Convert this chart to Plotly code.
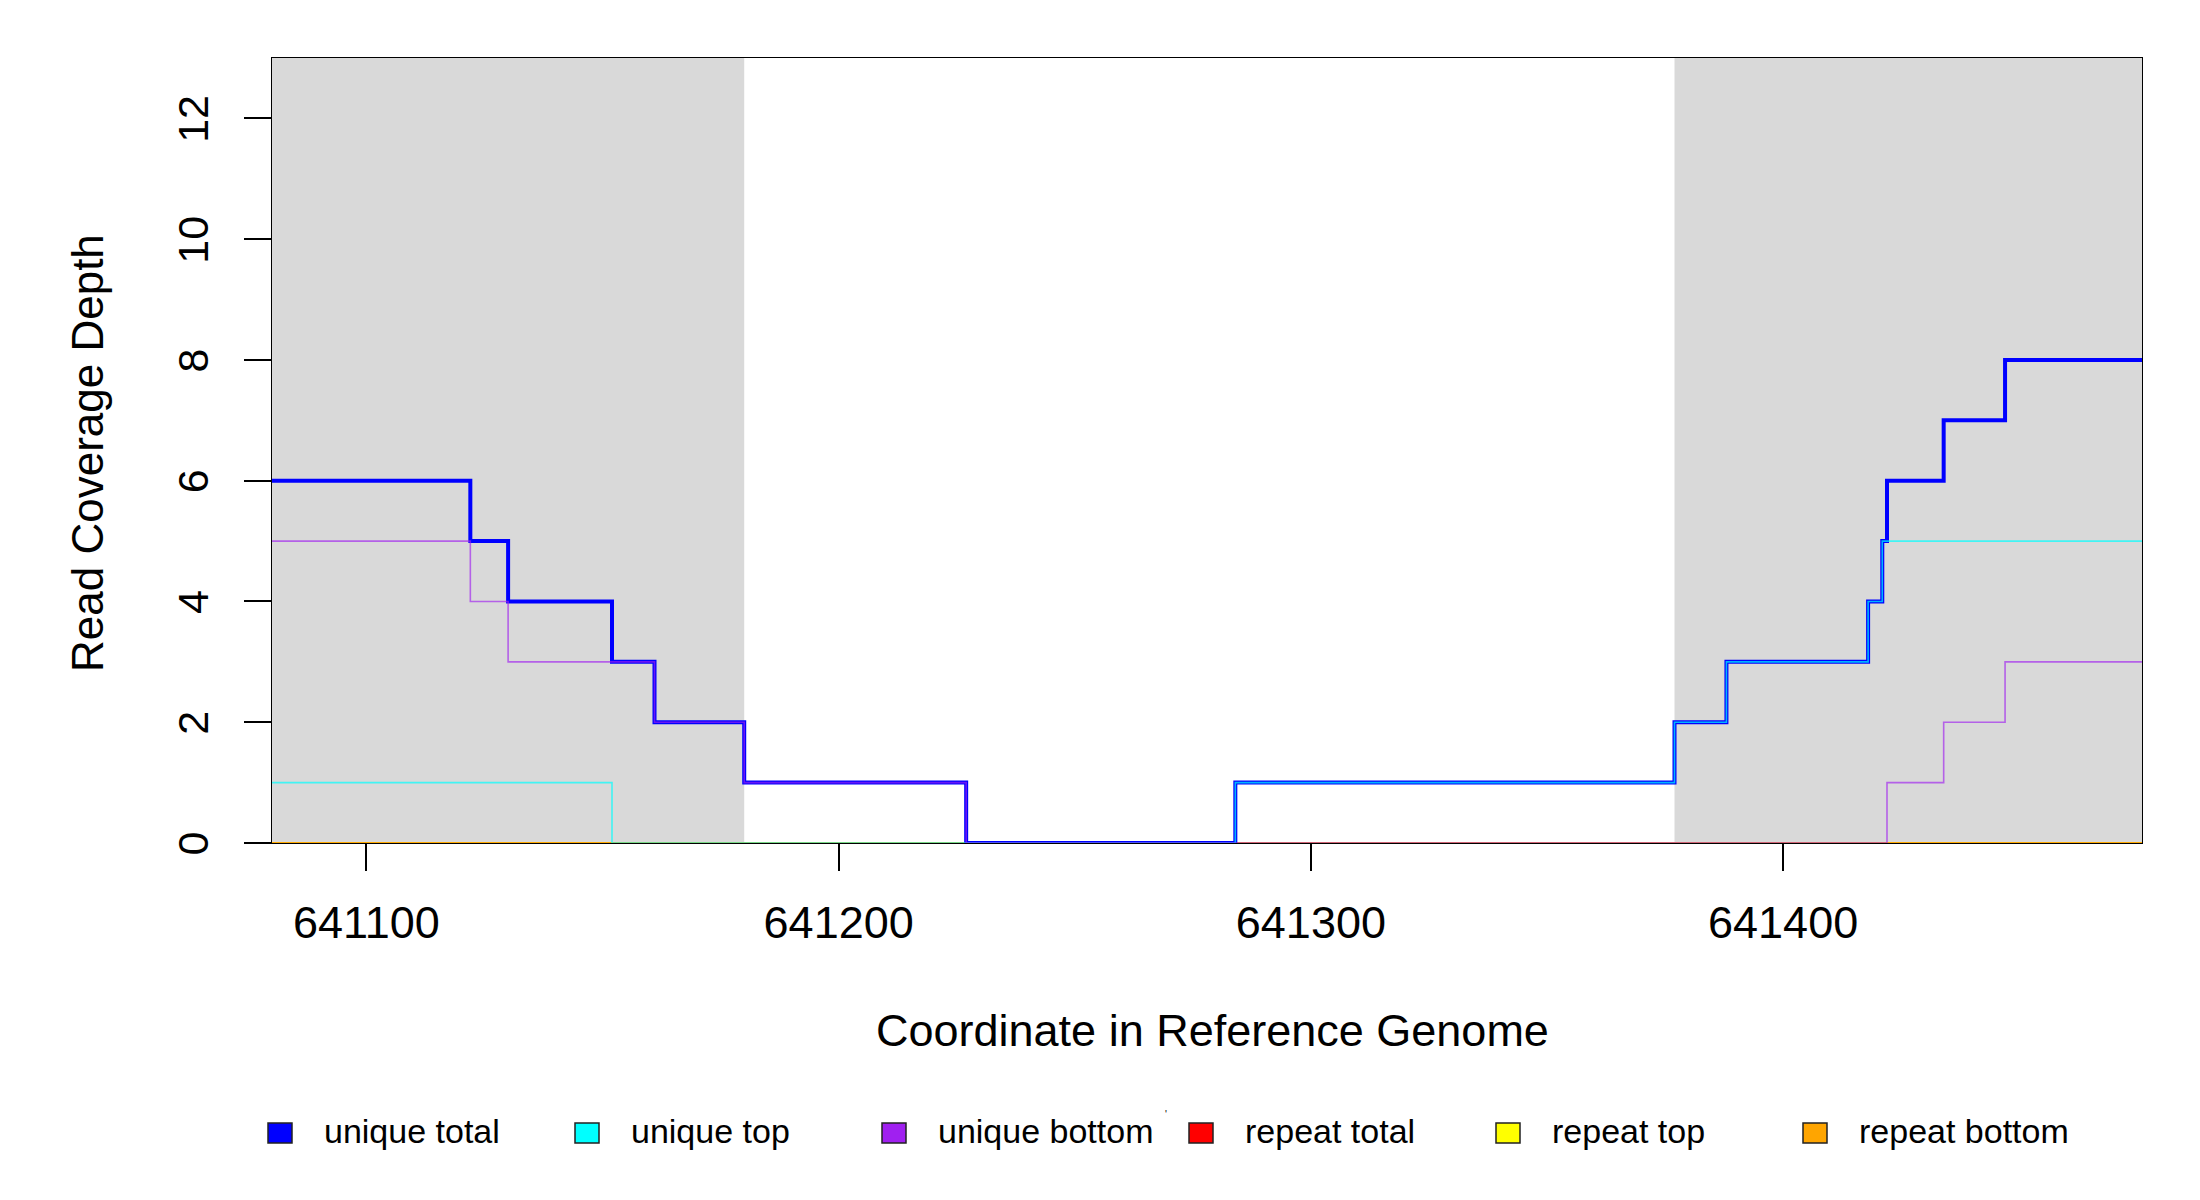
# read coverage depth plot
from pandas import DataFrame
from plotly.graph_objects import Figure, Scatter

# data
coords = [641080, 641122, 641130, 641152, 641161, 641180, 641227, 641284,
          641377, 641388, 641418, 641421, 641422, 641434, 641447, 641476]
unique_total = [6, 5, 4, 3, 2, 1, 0, 1, 2, 3, 4, 5, 6, 7, 8, 8]
unique_top = [1, 1, 1, 0, 0, 0, 0, 1, 2, 3, 4, 5, 5, 5, 5, 5]
unique_bottom = [5, 4, 3, 3, 2, 1, 0, 0, 0, 0, 0, 0, 1, 2, 3, 3]
repeat_total = [0, 0, 0, 0, 0, 0, 0, 0, 0, 0, 0, 0, 0, 0, 0, 0]
repeat_top = [0, 0, 0, 0, 0, 0, 0, 0, 0, 0, 0, 0, 0, 0, 0, 0]
repeat_bottom = [0, 0, 0, 0, 0, 0, 0, 0, 0, 0, 0, 0, 0, 0, 0, 0]

shaded_start = [641080, 641377]
shaded_end = [641180, 641476]

x_ticks = [641100, 641200, 641300, 641400]
y_ticks = [0, 2, 4, 6, 8, 10, 12]

# config for traces (legend order)
config = DataFrame(dict(
    name=['unique total', 'unique top', 'unique bottom',
          'repeat total', 'repeat top', 'repeat bottom'],
    y=[unique_total, unique_top, unique_bottom,
       repeat_total, repeat_top, repeat_bottom],
    color=['#0000FF', '#00FFFF', '#A020F0', '#FF0000', '#FFFF00', '#FFA500'],
    line=['rgba(0,0,255,1)', 'rgba(0,255,255,0.7)', 'rgba(160,32,240,0.65)',
          'rgba(255,0,0,0.7)', 'rgba(255,255,0,0.7)', 'rgba(255,165,0,0.85)'],
    width=[4, 1.6, 1.6, 2, 2, 2],
), index=['ut', 'utop', 'ubot', 'rt', 'rtop', 'rbot'])

FONT = 'Liberation Sans, Arial, sans-serif'

## page has an 8px body margin, so the figure is shifted by that
OFF = 8
W, H = 2200 - OFF, 1200 - OFF
## plot area in page pixels
L, R, T, B = 272, 2142, 58, 843


def px_x(p):
    return (p - L) / (R - L)


def px_y(p):
    return (B - p) / (B - T)


## init figure
fig = Figure()

## shaded regions
for s, e in zip(shaded_start, shaded_end):
    fig.add_shape(type='rect', xref='x', yref='paper', x0=s, x1=e, y0=0, y1=1,
                  fillcolor='#D9D9D9', line=dict(width=0), layer='below')

## add traces, repeats drawn first
for i in ['rt', 'rtop', 'rbot', 'ut', 'utop', 'ubot']:
    fig.add_trace(Scatter(
        x=coords, y=config.loc[i, 'y'], mode='lines',
        name=config.loc[i, 'name'], showlegend=False,
        line=dict(shape='hv', color=config.loc[i, 'line'], width=config.loc[i, 'width']),
    ))

## legend drawn by hand (filled squares)
for n, i in enumerate(config.index):
    left = 268 + 307 * n
    fig.add_shape(type='rect', xref='paper', yref='paper',
                  x0=px_x(left), x1=px_x(left + 24), y0=px_y(1143), y1=px_y(1123),
                  fillcolor=config.loc[i, 'color'], line=dict(color='#222222', width=1.5))
    fig.add_annotation(text=config.loc[i, 'name'], xref='paper', yref='paper',
                       x=px_x(left + 54), y=px_y(1131), xanchor='left', yanchor='middle',
                       showarrow=False, font=dict(size=34, color='black', family=FONT))
fig.add_annotation(text="'", xref='paper', yref='paper', x=px_x(1166), y=px_y(1122),
                   showarrow=False, font=dict(size=10, color='black', family=FONT))

## axis titles
fig.add_annotation(text='Coordinate in Reference Genome', xref='paper', yref='paper',
                   x=px_x(1212), y=px_y(1030), xanchor='center', yanchor='middle',
                   showarrow=False, font=dict(size=45, color='black', family=FONT))
fig.add_annotation(text='Read Coverage Depth', xref='paper', yref='paper',
                   x=px_x(87), y=px_y(453), xanchor='center', yanchor='middle',
                   textangle=-90, showarrow=False,
                   font=dict(size=44, color='black', family=FONT))

## config for figure
fig.update_layout(dict(
    width=W,
    height=H,
    margin=dict(l=L - OFF, r=W - (R - OFF), t=T - OFF, b=H - (B - OFF), pad=0),
    paper_bgcolor='white',
    plot_bgcolor='white',
    font=dict(family=FONT, color='black'),
    showlegend=False,
    xaxis=dict(
        range=[641080, 641476],
        tickvals=x_ticks,
        ticktext=[str(v) for v in x_ticks],
        ticks='outside', ticklen=27, tickwidth=1.5, tickcolor='black',
        tickfont=dict(size=45, family=FONT, color='black'),
        ticklabelstandoff=13,
        showgrid=False, zeroline=False,
        showline=True, mirror=True, linecolor='black', linewidth=1.2,
        layer='below traces',
    ),
    yaxis=dict(
        range=[0, 13],
        tickvals=y_ticks,
        ticks='outside', ticklen=27, tickwidth=1.5, tickcolor='black',
        tickfont=dict(size=43, family=FONT, color='black'),
        tickangle=-90,
        ticklabelstandoff=19,
        ticklabelshift=7,
        showgrid=False, zeroline=False,
        showline=True, mirror=True, linecolor='black', linewidth=1.2,
        layer='below traces',
    ),
))

## write
fig.write_html('out.html')
